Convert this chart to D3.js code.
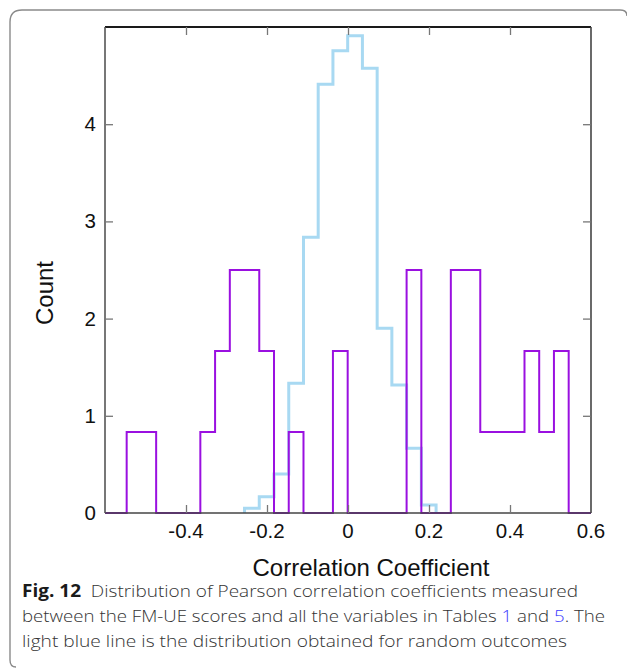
<!DOCTYPE html>
<html>
<head>
<meta charset="utf-8">
<script src="https://cdn.jsdelivr.net/npm/d3@7"></script>
<style>
  html, body { margin: 0; padding: 0; background: #fff; }
  svg { display: block; }
</style>
</head>
<body>
<svg id="chart" width="627" height="670"></svg>
<script>
// ---- Data ----
const binEdges = [-0.5465, -0.5101, -0.4737, -0.4374, -0.4010, -0.3646, -0.3282, -0.2918,
  -0.2555, -0.2191, -0.1827, -0.1463, -0.1099, -0.0736, -0.0372, -0.0008, 0.0356, 0.0720,
  0.1083, 0.1447, 0.1811, 0.2175, 0.2539, 0.2902, 0.3266, 0.3630, 0.3994, 0.4358, 0.4721,
  0.5085, 0.5449];
// measured distribution (purple), one value per bin
const measured = [0.833, 0.833, 0, 0, 0, 0.833, 1.667, 2.5, 2.5, 1.667, 0, 0.833, 0, 0,
  1.667, 0, 0, 0, 0, 2.5, 0, 0, 2.5, 2.5, 0.833, 0.833, 0.833, 1.667, 0.833, 1.667];
// random outcomes (light blue), bins 8..20
const randomFirstBin = 8;
const randomOutcomes = [0.05, 0.168, 0.40, 1.334, 2.836, 4.41, 4.756, 4.91, 4.575, 1.90,
  1.317, 0.666, 0.082];
const xTicks = [-0.4, -0.2, 0, 0.2, 0.4, 0.6];
const xTickMarks = [-0.4, -0.2, 0, 0.2, 0.4];
const yTicks = [0, 1, 2, 3, 4];
const yTickMarks = [1, 2, 3, 4];
const xDomain = [-0.6, 0.6];
const yDomain = [0, 5];

// ---- Layout ----
const svg = d3.select("#chart");
const plot = { left: 105, right: 591, top: 27, bottom: 513 };
const x = d3.scaleLinear().domain(xDomain).range([plot.left, plot.right]);
const y = d3.scaleLinear().domain(yDomain).range([plot.bottom, plot.top]);

// outer rounded frame
svg.append("path")
  .attr("d", "M16,667 Q10,667 10,660 L10,22 Q10,10 22,10 L620,10 Q627,10 627,16")
  .attr("fill", "none").attr("stroke", "#8a8a8a").attr("stroke-width", 1.4);

// step path helper
function stepPoints(edges, vals, startIdx, fromX, toX) {
  const pts = [];
  if (fromX !== undefined) pts.push([fromX, 0]);
  pts.push([edges[startIdx], 0]);
  vals.forEach((v, i) => {
    pts.push([edges[startIdx + i], v]);
    pts.push([edges[startIdx + i + 1], v]);
  });
  pts.push([edges[startIdx + vals.length], 0]);
  if (toX !== undefined) pts.push([toX, 0]);
  return pts;
}
const line = d3.line().x(d => x(d[0])).y(d => y(d[1]));

// light blue random outcome histogram
svg.append("path")
  .datum(stepPoints(binEdges, randomOutcomes, randomFirstBin))
  .attr("d", line)
  .attr("fill", "none").attr("stroke", "#a8d9f2").attr("stroke-width", 3)
  .attr("stroke-linejoin", "miter");

// purple measured histogram
svg.append("path")
  .datum(stepPoints(binEdges, measured, 0, xDomain[0], xDomain[1]))
  .attr("d", line)
  .attr("fill", "none").attr("stroke", "#9a10e0").attr("stroke-width", 2)
  .attr("stroke-linejoin", "miter");

// frame
const frame = svg.append("g");
frame.append("line").attr("x1", plot.left).attr("x2", plot.right).attr("y1", plot.top).attr("y2", plot.top)
  .attr("stroke", "#1a1a1a").attr("stroke-width", 2);
frame.append("line").attr("x1", plot.left).attr("x2", plot.right).attr("y1", plot.bottom).attr("y2", plot.bottom)
  .attr("stroke", "#444").attr("stroke-width", 1.6);
frame.append("line").attr("x1", plot.left).attr("x2", plot.left).attr("y1", plot.top).attr("y2", plot.bottom)
  .attr("stroke", "#555").attr("stroke-width", 1.6);
frame.append("line").attr("x1", plot.right).attr("x2", plot.right).attr("y1", plot.top).attr("y2", plot.bottom)
  .attr("stroke", "#444").attr("stroke-width", 1.6);

// ticks (inward) using axes
const tickCol = "#777";
const gB = svg.append("g").attr("transform", `translate(0,${plot.bottom})`)
  .call(d3.axisTop(x).tickValues(xTickMarks).tickSize(8).tickFormat(""));
const gT = svg.append("g").attr("transform", `translate(0,${plot.top})`)
  .call(d3.axisBottom(x).tickValues(xTickMarks).tickSize(8).tickFormat(""));
const gL = svg.append("g").attr("transform", `translate(${plot.left},0)`)
  .call(d3.axisRight(y).tickValues(yTickMarks).tickSize(8).tickFormat(""));
const gR = svg.append("g").attr("transform", `translate(${plot.right},0)`)
  .call(d3.axisLeft(y).tickValues(yTickMarks).tickSize(8).tickFormat(""));
[gB, gT, gL, gR].forEach(g => {
  g.select(".domain").remove();
  g.selectAll(".tick line").attr("stroke", tickCol).attr("stroke-width", 1.3);
});

// tick labels
const labFont = "'Liberation Sans', Arial, Helvetica, sans-serif";
svg.append("g").selectAll("text").data(xTicks).join("text")
  .attr("x", d => x(d)).attr("y", 538)
  .attr("text-anchor", "middle")
  .attr("font-family", labFont).attr("font-size", 20.5).attr("fill", "#111")
  .text(d => d === 0 ? "0" : d3.format(".1f")(d).replace("−", "-"));
svg.append("g").selectAll("text").data(yTicks).join("text")
  .attr("x", 96).attr("y", d => y(d) + 7)
  .attr("text-anchor", "end")
  .attr("font-family", labFont).attr("font-size", 20.5).attr("fill", "#111")
  .text(d => d);

// axis titles
svg.append("text").attr("x", 371).attr("y", 576)
  .attr("text-anchor", "middle").attr("font-family", labFont)
  .attr("font-size", 24).attr("fill", "#111").text("Correlation Coefficient");
svg.append("text").attr("transform", "translate(53,293) rotate(-90)")
  .attr("text-anchor", "middle").attr("font-family", labFont)
  .attr("font-size", 24).attr("fill", "#111").text("Count");

// caption
const capFont = "'Open Sans', 'Noto Sans', sans-serif";
const capCol = "#333";
const l1 = svg.append("text").attr("x", 22).attr("y", 597)
  .attr("font-family", capFont).attr("font-size", 17).attr("font-weight", 300).attr("fill", capCol)
  .attr("textLength", 556).attr("lengthAdjust", "spacingAndGlyphs");
l1.append("tspan").attr("font-weight", "bold").attr("fill", "#1a1a1a").text("Fig. 12");
l1.append("tspan").text("\u00a0 Distribution of Pearson correlation coefficients measured");

const l2 = svg.append("text").attr("x", 22).attr("y", 622)
  .attr("font-family", capFont).attr("font-size", 17).attr("font-weight", 300).attr("fill", capCol)
  .attr("textLength", 583).attr("lengthAdjust", "spacingAndGlyphs");
l2.append("tspan").text("between the FM-UE scores and all the variables in Tables ");
l2.append("tspan").attr("fill", "#3a3aff").text("1");
l2.append("tspan").text(" and ");
l2.append("tspan").attr("fill", "#3a3aff").text("5");
l2.append("tspan").text(". The");

svg.append("text").attr("x", 22).attr("y", 647)
  .attr("font-family", capFont).attr("font-size", 17).attr("font-weight", 300).attr("fill", capCol)
  .attr("textLength", 545).attr("lengthAdjust", "spacingAndGlyphs")
  .text("light blue line is the distribution obtained for random outcomes");
</script>
</body>
</html>
